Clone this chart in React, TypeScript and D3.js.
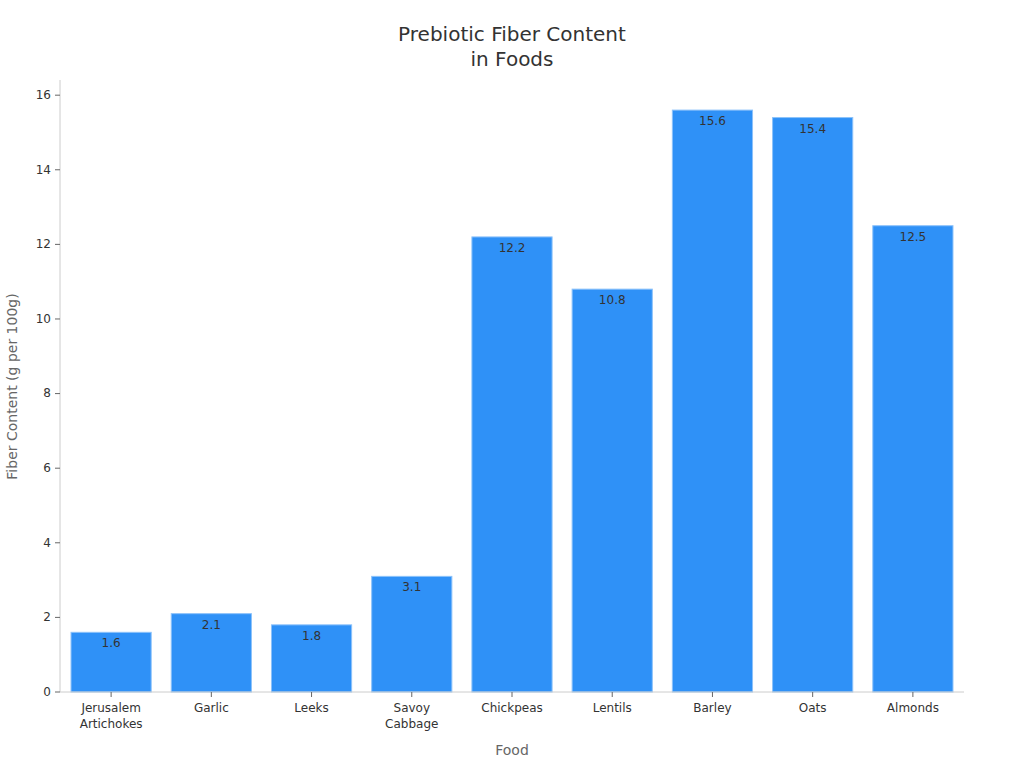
import React from 'react';
import * as d3 from 'd3';

const foods = ['Jerusalem\nArtichokes', 'Garlic', 'Leeks', 'Savoy\nCabbage', 'Chickpeas', 'Lentils', 'Barley', 'Oats', 'Almonds'];
const fiber = [1.6, 2.1, 1.8, 3.1, 12.2, 10.8, 15.6, 15.4, 12.5];
const yTicks = [0, 2, 4, 6, 8, 10, 12, 14, 16];

const W = 1024;
const H = 768;
const margin = { top: 81, right: 60, bottom: 76, left: 60 };
const font = 'DejaVu Sans, sans-serif';

export default function App(): React.ReactElement {
  const x = d3.scaleBand<string>()
    .domain(foods)
    .range([margin.left + 1, W - margin.right - 1])
    .paddingInner(0.2)
    .paddingOuter(0.1);

  const y = d3.scaleLinear()
    .domain([0, d3.max(fiber)! * 1.05])
    .range([H - margin.bottom, margin.top]);

  const y0 = y(0);

  return (
    <svg width={W} height={H} style={{ position: 'absolute', left: 0, top: 0, background: '#fff' }} fontFamily={font}>
      {/* title */}
      <text x={512} y={41} textAnchor="middle" fontSize={20} fill="#333">Prebiotic Fiber Content</text>
      <text x={512} y={66} textAnchor="middle" fontSize={20} fill="#333">in Foods</text>

      {/* y axis */}
      <line x1={margin.left} x2={margin.left} y1={margin.top - 1} y2={y0} stroke="#ccc" />
      {yTicks.map((t) => (
        <g key={t} transform={`translate(${margin.left},${y(t)})`}>
          <line x1={-5} x2={0} stroke="#666" />
          <text x={-9} dy="0.32em" textAnchor="end" fontSize={12} fill="#333">{t}</text>
        </g>
      ))}
      <text transform={`translate(17,${(margin.top + y0) / 2}) rotate(-90)`} textAnchor="middle" fontSize={14} fill="#666">
        Fiber Content (g per 100g)
      </text>

      {/* bars */}
      {foods.map((f, i) => (
        <g key={f}>
          <rect
            x={x(f)}
            y={y(fiber[i])}
            width={x.bandwidth()}
            height={y0 - y(fiber[i])}
            fill="#2f91f7"
            stroke="#8cc2fa"
            strokeWidth={1}
          />
          <text x={x(f)! + x.bandwidth() / 2} y={y(fiber[i]) + 15} textAnchor="middle" fontSize={12} fill="#333">
            {fiber[i]}
          </text>
        </g>
      ))}

      {/* x axis */}
      <line x1={margin.left} x2={W - margin.right} y1={y0} y2={y0} stroke="#ccc" />
      {foods.map((f) => {
        const cx = x(f)! + x.bandwidth() / 2;
        return (
          <g key={f} transform={`translate(${cx},${y0})`}>
            <line y1={0} y2={5} stroke="#666" />
            {f.split('\n').map((line, j) => (
              <text key={j} y={20 + j * 16} textAnchor="middle" fontSize={12} fill="#333">{line}</text>
            ))}
          </g>
        );
      })}
      <text x={512} y={755} textAnchor="middle" fontSize={14} fill="#666">Food</text>
    </svg>
  );
}
